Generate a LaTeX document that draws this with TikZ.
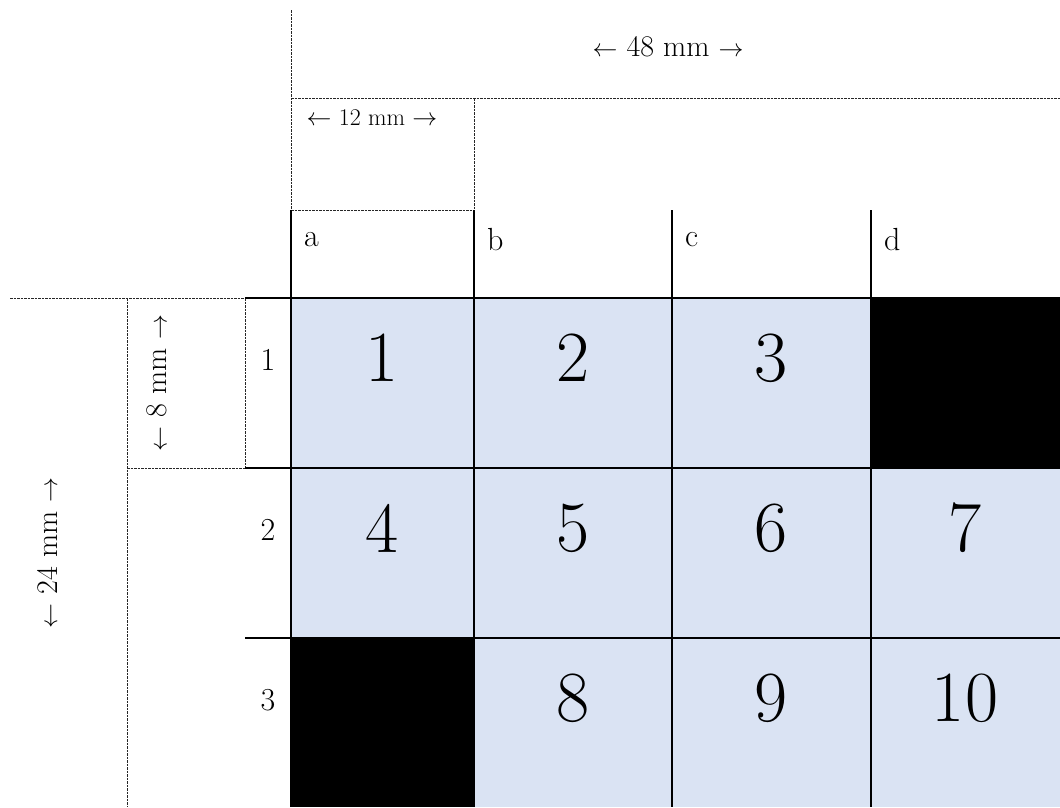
\documentclass[tikz,border=0pt]{standalone}
\usetikzlibrary{positioning}
\definecolor{cellfill}{HTML}{DAE3F3}

\begin{document}
\begin{tikzpicture}[
        x=1pt, y=-1pt,
        gridline/.style={line width=1.8pt, black},
        guideline/.style={line width=0.8pt, dash pattern=on 2.5pt off 1pt, black!85},
        measure/.style={font=\fontsize{30}{30}\selectfont, inner sep=0pt},
        smallmeasure/.style={font=\fontsize{24}{24}\selectfont, inner sep=0pt},
        headlabel/.style={font=\fontsize{32}{32}\selectfont, anchor=west, inner sep=0pt},
        rowlabel/.style={font=\fontsize{32}{32}\selectfont, inner sep=0pt},
        cellnumber/.style={font=\fontsize{72}{72}\selectfont, inner sep=0pt}
    ]
        \useasboundingbox (0,0) rectangle (1060,807);

        % cell backgrounds
        \fill[cellfill] (291,298) rectangle (1060,807);
        \fill[black] (871,298) rectangle (1060,468);
        \fill[black] (291,638) rectangle (474,807);

        % measuring guides
        \draw[guideline] (291,10) -- (291,210);
        \draw[guideline] (291,98) -- (1060,98);
        \draw[guideline] (474,98) -- (474,210);
        \draw[guideline] (291,210) -- (474,210);
        \draw[guideline] (10,298) -- (245,298);
        \draw[guideline] (127,298) -- (127,807);
        \draw[guideline] (127,468) -- (245,468);
        \draw[guideline] (245,298) -- (245,468);

        % table rules
        \draw[gridline] (245,298) -- (1060,298);
        \draw[gridline] (245,468) -- (1060,468);
        \draw[gridline] (245,638) -- (1060,638);
        \draw[gridline] (291,210) -- (291,807);
        \draw[gridline] (474,210) -- (474,807);
        \draw[gridline] (672,210) -- (672,807);
        \draw[gridline] (871,210) -- (871,807);

        % dimensions
        \node[measure] (width) at (668,47) {$\leftarrow$ 48 mm $\rightarrow$};
        \node[smallmeasure] (colwidth) at (372,118) {$\leftarrow$ 12 mm $\rightarrow$};
        \node[measure, rotate=90] (rowheight) at (157,383) {$\leftarrow$ 8 mm $\rightarrow$};
        \node[measure, rotate=90] (height) at (47,553) {$\leftarrow$ 24 mm $\rightarrow$};

        % column and row labels
        \node[headlabel] (cola) at (304,240) {a};
        \node[headlabel] (colb) at (487,240) {b};
        \node[headlabel] (colc) at (685,240) {c};
        \node[headlabel] (cold) at (884,240) {d};
        \node[rowlabel] (row1) at (268,360) {1};
        \node[rowlabel] (row2) at (268,530) {2};
        \node[rowlabel] (row3) at (268,700) {3};

        % numbered cells
        \node[cellnumber] (n1) at (382,358) {1};
        \node[cellnumber] (n2) at (573,358) {2};
        \node[cellnumber] (n3) at (771,358) {3};
        \node[cellnumber] (n4) at (382,528) {4};
        \node[cellnumber] (n5) at (573,528) {5};
        \node[cellnumber] (n6) at (771,528) {6};
        \node[cellnumber] (n7) at (965,528) {7};
        \node[cellnumber] (n8) at (573,698) {8};
        \node[cellnumber] (n9) at (771,698) {9};
        \node[cellnumber] (n10) at (965,698) {10};
    \end{tikzpicture}
\end{document}
